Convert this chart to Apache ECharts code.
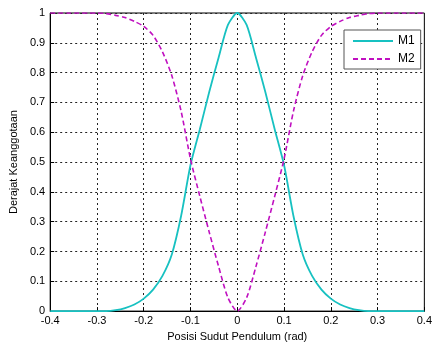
<!DOCTYPE html>
<html>
<head>
<meta charset="utf-8">
<script src="https://cdn.jsdelivr.net/npm/echarts@6/dist/echarts.min.js"></script>
<style>
  html, body { margin: 0; padding: 0; background: #fff; }
  #chart { width: 435px; height: 347px; }
</style>
</head>
<body>
<div id="chart"></div>
<script>
// x positions (rad), step 0.02
const xs = [
  -0.40, -0.38, -0.36, -0.34, -0.32, -0.30, -0.28, -0.26, -0.24, -0.22,
  -0.20, -0.18, -0.16, -0.14, -0.12, -0.10, -0.08, -0.06, -0.04, -0.02,
  0.00, 0.02, 0.04, 0.06, 0.08, 0.10, 0.12, 0.14, 0.16, 0.18,
  0.20, 0.22, 0.24, 0.26, 0.28, 0.30, 0.32, 0.34, 0.36, 0.38, 0.40
];

// membership M1
const m1 = [
  0, 0, 0, 0, 0, 0, 0, 0.003, 0.01, 0.022,
  0.042, 0.072, 0.118, 0.19, 0.32, 0.49, 0.61, 0.735, 0.85, 0.96,
  1.0, 0.96, 0.85, 0.735, 0.61, 0.49, 0.32, 0.19, 0.118, 0.072,
  0.042, 0.022, 0.01, 0.003, 0, 0, 0, 0, 0, 0, 0
];

// membership M2
const m2 = [
  1, 1, 1, 1, 1, 1, 0.998, 0.992, 0.985, 0.972,
  0.955, 0.925, 0.87, 0.79, 0.67, 0.51, 0.385, 0.265, 0.15, 0.045,
  0, 0.045, 0.15, 0.265, 0.385, 0.51, 0.67, 0.79, 0.87, 0.925,
  0.955, 0.972, 0.985, 0.992, 0.998, 1, 1, 1, 1, 1, 1
];

const pairs = (ys) => xs.map((x, i) => [x, ys[i]]);

const font = "Liberation Sans, Arial, sans-serif";
const gridLine = { show: true, lineStyle: { color: "#222", type: [2, 3], width: 1 } };

const option = {
  animation: false,
  grid: {
    left: 48, right: 7, top: 13, bottom: 34,
    show: true, borderColor: "#000", borderWidth: 1
  },
  xAxis: {
    type: "value",
    min: -0.4, max: 0.4, interval: 0.1,
    name: "Posisi Sudut Pendulum (rad)",
    nameLocation: "middle", nameGap: 19,
    nameTextStyle: { fontFamily: font, fontSize: 11, color: "#000" },
    axisLine: { onZero: false, lineStyle: { color: "#000" } },
    axisTick: { inside: true, length: 4, lineStyle: { color: "#000" } },
    axisLabel: {
      fontFamily: font, fontSize: 11, color: "#000", margin: 4,
      formatter: (v) => String(+v.toFixed(1))
    },
    splitLine: gridLine
  },
  yAxis: {
    type: "value",
    min: 0, max: 1, interval: 0.1,
    name: "Derajat Keanggotaan",
    nameLocation: "middle", nameGap: 31,
    nameTextStyle: { fontFamily: font, fontSize: 11, color: "#000" },
    axisLine: { onZero: false, lineStyle: { color: "#000" } },
    axisTick: { inside: true, length: 4, lineStyle: { color: "#000" } },
    axisLabel: {
      fontFamily: font, fontSize: 11, color: "#000", margin: 5,
      formatter: (v) => String(+v.toFixed(1))
    },
    splitLine: gridLine
  },
  legend: {
    orient: "vertical",
    left: 344, top: 30,
    padding: [5, 6, 4, 8],
    itemGap: 6,
    itemWidth: 40, itemHeight: 8,
    backgroundColor: "#fff",
    borderColor: "#555", borderWidth: 1,
    itemStyle: { opacity: 0 },
    textStyle: { fontFamily: font, fontSize: 12, color: "#000" },
    data: ["M1", "M2"]
  },
  series: [
    {
      name: "M1",
      type: "line",
      data: pairs(m1),
      smooth: 0.25,
      symbol: "none",
      lineStyle: { color: "#17c1c1", width: 1.8 },
      itemStyle: { color: "#17c1c1" }
    },
    {
      name: "M2",
      type: "line",
      data: pairs(m2),
      smooth: 0.25,
      symbol: "none",
      lineStyle: { color: "#c010c0", width: 1.6, type: [5, 3] },
      itemStyle: { color: "#c010c0" }
    }
  ]
};

const chart = echarts.init(document.getElementById("chart"));
chart.setOption(option);
</script>
</body>
</html>
